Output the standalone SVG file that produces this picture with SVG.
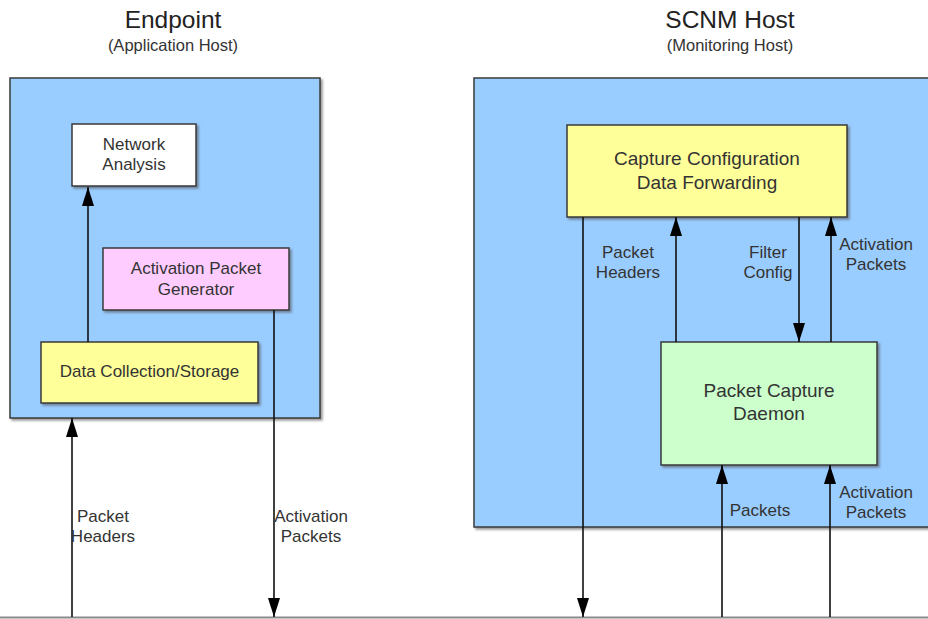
<svg xmlns="http://www.w3.org/2000/svg" width="928" height="619" viewBox="0 0 928 619">
<defs>
<marker id="ah" markerUnits="userSpaceOnUse" markerWidth="19" markerHeight="12" refX="19" refY="6" viewBox="0 0 19 12" orient="auto">
<path d="M0,0 L19,6 L0,12 Z" fill="#000"/>
</marker>
<filter id="sh" x="-5%" y="-5%" width="115%" height="115%">
<feDropShadow dx="2" dy="2" stdDeviation="1" flood-color="#555" flood-opacity="0.6"/>
</filter>
</defs>
<style>
text{font-family:"Liberation Sans",Arial,sans-serif;fill:#333;text-anchor:middle}
.title{font-size:24.5px;fill:#222}
.sub{font-size:16.5px}
.bx{stroke:#3a3a3a;stroke-width:1.5;filter:url(#sh)}
.lbl{font-size:17px}
.bt{font-size:17px}
.bt2{font-size:19px}
.c{stroke:#111;stroke-width:1.6;fill:none;marker-end:url(#ah)}
</style>
<rect width="928" height="619" fill="#fff"/>
<g id="titles">
<text class="title" x="173" y="28">Endpoint</text>
<text class="sub" x="173" y="51">(Application Host)</text>
<text class="title" x="730" y="28">SCNM Host</text>
<text class="sub" x="730" y="51">(Monitoring Host)</text>
</g>
<g id="endpoint-host">
<rect class="bx" x="10" y="78" width="310" height="340" fill="#99ccff"/>
</g>
<g id="scnm-host">
<rect class="bx" x="474" y="78" width="470" height="449" fill="#99ccff"/>
</g>
<g id="network-analysis">
<rect class="bx" x="72" y="124" width="124" height="62" fill="#ffffff"/>
<text class="bt" x="134" y="150">Network</text>
<text class="bt" x="134" y="170">Analysis</text>
</g>
<g id="activation-packet-generator">
<rect class="bx" x="103" y="248" width="186" height="62" fill="#ffccff"/>
<text class="bt" x="196" y="274">Activation Packet</text>
<text class="bt" x="196" y="295">Generator</text>
</g>
<g id="data-collection">
<rect class="bx" x="41" y="342" width="217" height="61" fill="#ffff99"/>
<text class="bt" x="149.5" y="377">Data Collection/Storage</text>
</g>
<g id="capture-configuration">
<rect class="bx" x="567" y="125" width="280" height="92" fill="#ffff99"/>
<text class="bt2" x="707" y="165">Capture Configuration</text>
<text class="bt2" x="707" y="189">Data Forwarding</text>
</g>
<g id="packet-capture-daemon">
<rect class="bx" x="661" y="342" width="216" height="123" fill="#ccffcc"/>
<text class="bt2" x="769" y="397">Packet Capture</text>
<text class="bt2" x="769" y="420">Daemon</text>
</g>
<g id="network-line">
<line x1="0" y1="617.5" x2="928" y2="617.5" stroke="#8a8a8a" stroke-width="2"/>
</g>
<g id="connectors">
<line class="c" x1="88" y1="342" x2="88" y2="187"/>
<line class="c" x1="72" y1="617" x2="72" y2="418"/>
<line class="c" x1="274" y1="310" x2="274" y2="617"/>
<line class="c" x1="583" y1="217" x2="583" y2="617"/>
<line class="c" x1="676" y1="342" x2="676" y2="217"/>
<line class="c" x1="799" y1="217" x2="799" y2="342"/>
<line class="c" x1="831" y1="342" x2="831" y2="217"/>
<line class="c" x1="722" y1="617" x2="722" y2="465"/>
<line class="c" x1="830" y1="617" x2="830" y2="465"/>
</g>
<g id="labels">
<text class="lbl" x="103" y="522">Packet</text>
<text class="lbl" x="103" y="542">Headers</text>
<text class="lbl" x="311" y="522">Activation</text>
<text class="lbl" x="311" y="542">Packets</text>
<text class="lbl" x="628" y="258">Packet</text>
<text class="lbl" x="628" y="278">Headers</text>
<text class="lbl" x="768" y="258">Filter</text>
<text class="lbl" x="768" y="278">Config</text>
<text class="lbl" x="876" y="250">Activation</text>
<text class="lbl" x="876" y="270">Packets</text>
<text class="lbl" x="760" y="516">Packets</text>
<text class="lbl" x="876" y="498">Activation</text>
<text class="lbl" x="876" y="518">Packets</text>
</g>
</svg>
